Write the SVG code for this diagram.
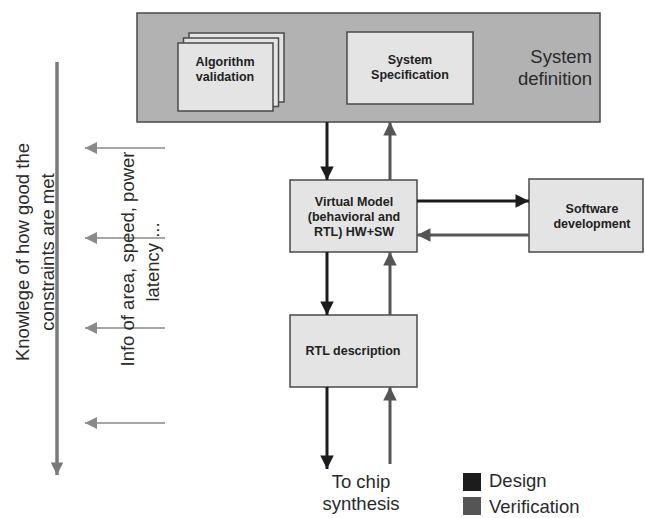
<svg xmlns="http://www.w3.org/2000/svg" width="645" height="518" viewBox="0 0 645 518">
<style>
.box{fill:#e4e4e4;stroke:#4a4a4a;stroke-width:1.5}
.bt{font-family:"Liberation Sans",Arial,sans-serif;font-weight:bold;font-size:12.5px;fill:#222;text-anchor:middle}
.lt{font-family:"Liberation Sans",Arial,sans-serif;font-size:18.5px;fill:#2a2a2a}
.d{stroke:#1c1c1c;stroke-width:3;fill:none}
.v{stroke:#555;stroke-width:3;fill:none}
.i{stroke:#8a8a8a;stroke-width:1.5;fill:none}
</style>
<defs>
<marker id="hd" viewBox="0 0 10 10" refX="10" refY="5" markerWidth="5" markerHeight="4.5" markerUnits="strokeWidth" orient="auto"><path d="M0,0L10,5L0,10z" fill="#1c1c1c"/></marker>
<marker id="hv" viewBox="0 0 10 10" refX="10" refY="5" markerWidth="5" markerHeight="4.5" markerUnits="strokeWidth" orient="auto"><path d="M0,0L10,5L0,10z" fill="#555"/></marker>
<marker id="hi" viewBox="0 0 10 10" refX="10" refY="5" markerWidth="10" markerHeight="8" markerUnits="strokeWidth" orient="auto"><path d="M0,0L10,5L0,10z" fill="#8a8a8a"/></marker>
<marker id="hk" viewBox="0 0 10 10" refX="10" refY="5" markerWidth="4" markerHeight="3.6" markerUnits="strokeWidth" orient="auto"><path d="M0,0L10,5L0,10z" fill="#7a7a7a"/></marker>
</defs>
<rect width="645" height="518" fill="#fff"/>
<g id="system-definition">
<rect x="137" y="13" width="463" height="109" fill="#b2b2b2" stroke="#4a4a4a" stroke-width="1.5"/>
<text class="lt" x="592" y="63" text-anchor="end" font-size="20">System</text>
<text class="lt" x="592" y="85" text-anchor="end" font-size="20">definition</text>
</g>
<g id="algorithm-validation">
<rect class="box" x="189" y="33" width="95" height="69"/>
<rect class="box" x="183.5" y="38" width="95" height="68.5"/>
<rect class="box" x="178" y="43" width="95" height="68"/>
<text class="bt" x="225" y="66">Algorithm</text>
<text class="bt" x="225" y="81">validation</text>
</g>
<g id="system-specification">
<rect class="box" x="347" y="32" width="126" height="72"/>
<text class="bt" x="410" y="64">System</text>
<text class="bt" x="410" y="79">Specification</text>
</g>
<g id="virtual-model">
<rect class="box" x="290" y="180" width="127" height="72"/>
<text class="bt" x="354" y="206">Virtual Model</text>
<text class="bt" x="354" y="221">(behavioral and</text>
<text class="bt" x="354" y="236">RTL) HW+SW</text>
</g>
<g id="software-development">
<rect class="box" x="529" y="179" width="114" height="73"/>
<text class="bt" x="592" y="213">Software</text>
<text class="bt" x="592" y="228">development</text>
</g>
<g id="rtl-description">
<rect class="box" x="290" y="315" width="127" height="72"/>
<text class="bt" x="353" y="355">RTL description</text>
</g>
<g id="connectors">
<line class="d" x1="327" y1="122" x2="327" y2="180" marker-end="url(#hd)"/>
<line class="v" x1="390" y1="180" x2="390" y2="122" marker-end="url(#hv)"/>
<line class="d" x1="417" y1="201" x2="529" y2="201" marker-end="url(#hd)"/>
<line class="v" x1="529" y1="235" x2="417" y2="235" marker-end="url(#hv)"/>
<line class="d" x1="327" y1="252" x2="327" y2="315" marker-end="url(#hd)"/>
<line class="v" x1="390" y1="315" x2="390" y2="252" marker-end="url(#hv)"/>
<line class="d" x1="327" y1="387" x2="327" y2="469" marker-end="url(#hd)"/>
<line class="v" x1="390" y1="464" x2="390" y2="387" marker-end="url(#hv)"/>
<line class="i" x1="165" y1="148" x2="85" y2="148" marker-end="url(#hi)"/>
<line class="i" x1="165" y1="238" x2="85" y2="238" marker-end="url(#hi)"/>
<line class="i" x1="165" y1="328" x2="85" y2="328" marker-end="url(#hi)"/>
<line class="i" x1="165" y1="423" x2="85" y2="423" marker-end="url(#hi)"/>
<line x1="57" y1="62" x2="57" y2="475" stroke="#7a7a7a" stroke-width="3.5" marker-end="url(#hk)"/>
</g>
<g id="labels">
<text class="lt" transform="translate(29,252) rotate(-90)" text-anchor="middle" font-size="20">Knowlege of how good the</text>
<text class="lt" transform="translate(54,252) rotate(-90)" text-anchor="middle" font-size="20">constraints are met</text>
<text class="lt" transform="translate(134,259) rotate(-90)" text-anchor="middle" font-size="20.5">Info of area, speed, power</text>
<text class="lt" transform="translate(159,262) rotate(-90)" text-anchor="middle" font-size="20.5">latency ...</text>
<text class="lt" x="361" y="488" text-anchor="middle" font-size="19.5">To chip</text>
<text class="lt" x="361" y="510" text-anchor="middle" font-size="19.5">synthesis</text>
</g>
<g id="legend">
<rect x="463" y="473" width="18" height="18" fill="#1c1c1c"/>
<rect x="463" y="497" width="18" height="18" fill="#555"/>
<text class="lt" x="489" y="487">Design</text>
<text class="lt" x="489" y="513" font-size="19.5">Verification</text>
</g>
</svg>
